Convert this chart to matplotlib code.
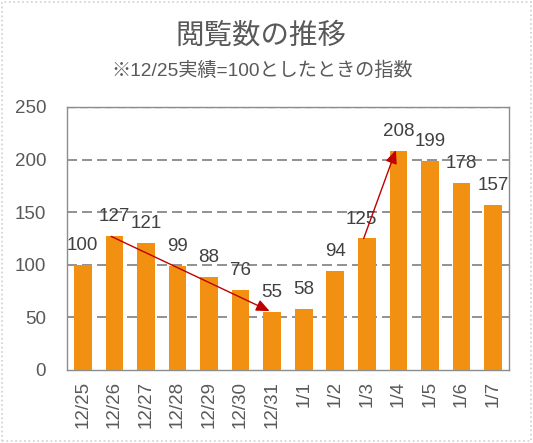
import matplotlib
matplotlib.use("Agg")
import matplotlib.pyplot as plt
from matplotlib.patches import Rectangle

categories = ["12/25", "12/26", "12/27", "12/28", "12/29", "12/30", "12/31",
              "1/1", "1/2", "1/3", "1/4", "1/5", "1/6", "1/7"]
values = [100, 127, 121, 99, 88, 76, 55, 58, 94, 125, 208, 199, 178, 157]
yticks = [0, 50, 100, 150, 200, 250]
title = "閲覧数の推移"
subtitle = "※12/25実績=100としたときの指数"
arrows = [("12/26", "12/31"), ("1/3", "1/4")]

plt.rcParams['font.family'] = ['Liberation Sans', 'Noto Sans CJK JP', 'DejaVu Sans']

fig = plt.figure(figsize=(5.33, 4.43), dpi=100)
ax = fig.add_axes([0.1257, 0.1648, 0.829, 0.5937])

x = list(range(len(categories)))
bar_color = '#F29111'
txt_color = '#595959'
ax.bar(x, values, width=0.56, color=bar_color, zorder=3)

ax.set_xlim(-0.5, len(categories) - 0.5)
ax.set_ylim(0, 250)
ax.set_yticks(yticks)
ax.set_xticks(x)
ax.set_xticklabels(categories, rotation=90)
ax.tick_params(axis='both', length=0, labelsize=13.5, labelcolor=txt_color)
ax.tick_params(axis='y', pad=15)
ax.tick_params(axis='x', pad=8)

for t in yticks[1:-1]:
    ax.axhline(t, color='#7f7f7f', lw=1.2, ls=(0, (6, 3)), zorder=1)
ax.axhline(250, color='#a0a0a0', lw=1.0, ls=(0, (6, 3)), zorder=1)

for s in ax.spines.values():
    s.set_color('#8c8c8c')
    s.set_linewidth(1.0)

# data labels
label_dx = {"1/3": -0.17}
for xi, cat, v in zip(x, categories, values):
    ax.annotate(str(v), (xi + label_dx.get(cat, 0), v), xytext=(0, 14),
                textcoords='offset points', ha='center', va='center',
                fontsize=13.5, color='#404040', zorder=5)

# arrows
for a, b in arrows:
    ia, ib = categories.index(a), categories.index(b)
    ax.annotate("", xy=(ib - 0.08, values[ib] + 1), xytext=(ia - 0.1, values[ia]),
                arrowprops=dict(arrowstyle='-|>,head_length=0.8,head_width=0.35',
                                color='#C00000', lw=1.0, shrinkA=0, shrinkB=0),
                zorder=6)

fig.text(0.489, 0.919, title, ha='center', va='center', fontsize=20.5,
         color=txt_color, family=['Noto Sans CJK JP'])
fig.text(0.491, 0.840, subtitle, ha='center', va='center', fontsize=13.8,
         color=txt_color)

fig.patches.append(Rectangle((0.004, 0.004), 0.992, 0.992, transform=fig.transFigure,
                             fill=False, edgecolor='#d0d0d0', lw=1.2, ls=':'))

fig.savefig("out.png", dpi=100)
